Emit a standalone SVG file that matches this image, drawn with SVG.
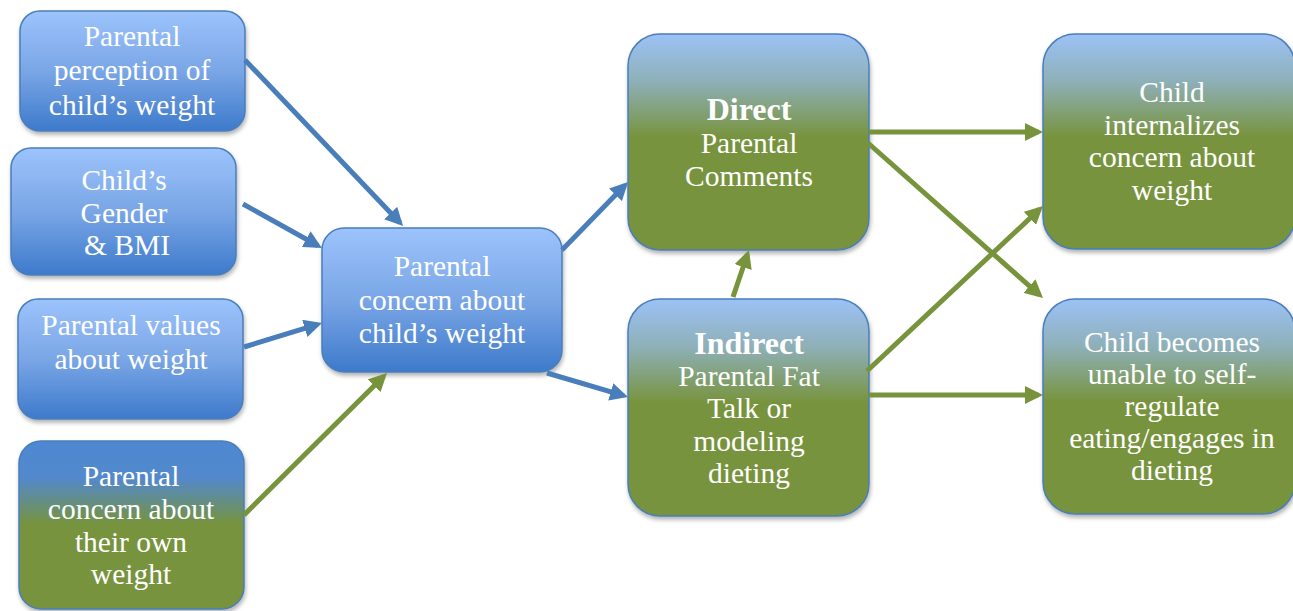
<svg xmlns="http://www.w3.org/2000/svg" width="1293" height="611" viewBox="0 0 1293 611">
<style>
.box{stroke:#4a7ebb;stroke-width:1.5;filter:url(#sh)}
.b{fill:url(#gBlue)}
.g{fill:url(#gGreen)}
.bg{fill:url(#gBlueGreen)}
text{font-family:"Liberation Serif","Times New Roman",serif;font-size:29.5px;fill:#ffffff;text-anchor:middle}
.bold{font-weight:bold;font-size:32px}
.cb{stroke:#4a7ebb;stroke-width:5;fill:none;marker-end:url(#ab)}
.cg{stroke:#77933c;stroke-width:5;fill:none;marker-end:url(#ag)}
</style>
<defs>
<linearGradient id="gBlue" x1="0" y1="0" x2="0" y2="1">
<stop offset="0" stop-color="#9cc3fc"/>
<stop offset="0.5" stop-color="#7aa6e6"/>
<stop offset="1" stop-color="#3d7acb"/>
</linearGradient>
<linearGradient id="gGreen" x1="0" y1="0" x2="0" y2="1">
<stop offset="0" stop-color="#9cc2f6"/>
<stop offset="0.22" stop-color="#8eb0b8"/>
<stop offset="0.48" stop-color="#77933c"/>
<stop offset="1" stop-color="#77933c"/>
</linearGradient>
<linearGradient id="gBlueGreen" x1="0" y1="0" x2="0" y2="1">
<stop offset="0" stop-color="#4f88d2"/>
<stop offset="0.22" stop-color="#5289cc"/>
<stop offset="0.5" stop-color="#77933c"/>
<stop offset="1" stop-color="#77933c"/>
</linearGradient>
<filter id="sh" x="-10%" y="-10%" width="120%" height="125%">
<feDropShadow dx="1" dy="3" stdDeviation="2" flood-color="#000" flood-opacity="0.3"/>
</filter>
<marker id="ab" markerUnits="userSpaceOnUse" markerWidth="18" markerHeight="18" refX="13.5" refY="9" orient="auto">
<path d="M0,0 L18,9 L0,18 z" fill="#4a7ebb"/>
</marker>
<marker id="ag" markerUnits="userSpaceOnUse" markerWidth="18" markerHeight="18" refX="13.5" refY="9" orient="auto">
<path d="M0,0 L18,9 L0,18 z" fill="#77933c"/>
</marker>
</defs>
<rect width="1293" height="611" fill="#ffffff"/>

<g id="n-perception">
<rect class="box b" x="20" y="11" width="225" height="120" rx="20"/>
<text x="132" y="46">Parental</text>
<text x="132" y="80">perception of</text>
<text x="132" y="115">child’s weight</text>
</g>
<g id="n-gender">
<rect class="box b" x="11" y="148" width="225" height="127" rx="20"/>
<text x="124" y="190">Child’s</text>
<text x="124" y="223">Gender</text>
<text x="127" y="255">&amp; BMI</text>
</g>
<g id="n-values">
<rect class="box b" x="18" y="299" width="225" height="120" rx="20"/>
<text x="131" y="335">Parental values</text>
<text x="131" y="369">about weight</text>
</g>
<g id="n-own">
<rect class="box bg" x="19" y="441" width="225" height="168" rx="22"/>
<text x="131" y="486">Parental</text>
<text x="131" y="519">concern about</text>
<text x="131" y="552">their own</text>
<text x="131" y="584">weight</text>
</g>
<g id="n-concern">
<rect class="box b" x="322" y="228" width="240" height="144" rx="22"/>
<text x="442" y="276">Parental</text>
<text x="442" y="310">concern about</text>
<text x="442" y="343">child’s weight</text>
</g>
<g id="n-direct">
<rect class="box g" x="628" y="34" width="241" height="216" rx="32"/>
<text class="bold" x="749" y="120">Direct</text>
<text x="749" y="153">Parental</text>
<text x="749" y="186">Comments</text>
</g>
<g id="n-indirect">
<rect class="box g" x="628" y="299" width="241" height="217" rx="32"/>
<text class="bold" x="749" y="354">Indirect</text>
<text x="749" y="386">Parental Fat</text>
<text x="749" y="418">Talk or</text>
<text x="749" y="451">modeling</text>
<text x="749" y="483">dieting</text>
</g>
<g id="n-internalizes">
<rect class="box g" x="1043" y="34" width="252" height="215" rx="32"/>
<text x="1172" y="102">Child</text>
<text x="1172" y="135">internalizes</text>
<text x="1172" y="167">concern about</text>
<text x="1172" y="200">weight</text>
</g>
<g id="n-unable">
<rect class="box g" x="1043" y="299" width="252" height="215" rx="32"/>
<text x="1172" y="352">Child becomes</text>
<text x="1172" y="384">unable to self-</text>
<text x="1172" y="416">regulate</text>
<text x="1172" y="448">eating/engages in</text>
<text x="1172" y="480">dieting</text>
</g>

<g id="connectors">
<line class="cb" x1="245" y1="60" x2="400" y2="222.8"/>
<line class="cb" x1="243" y1="204" x2="318" y2="245.8"/>
<line class="cb" x1="244" y1="347" x2="317.7" y2="324.3"/>
<line class="cg" x1="244" y1="515" x2="383.8" y2="376.2"/>
<line class="cb" x1="562" y1="250" x2="624.9" y2="185.2"/>
<line class="cb" x1="547" y1="373" x2="623.7" y2="395.7"/>
<line class="cg" x1="733" y1="297" x2="747.5" y2="254.3"/>
<line class="cg" x1="869" y1="132" x2="1038.5" y2="132"/>
<line class="cg" x1="868" y1="143" x2="1039.6" y2="295"/>
<line class="cg" x1="867" y1="371" x2="1039.7" y2="209.1"/>
<line class="cg" x1="869" y1="395" x2="1038.5" y2="395"/>
</g>
</svg>
